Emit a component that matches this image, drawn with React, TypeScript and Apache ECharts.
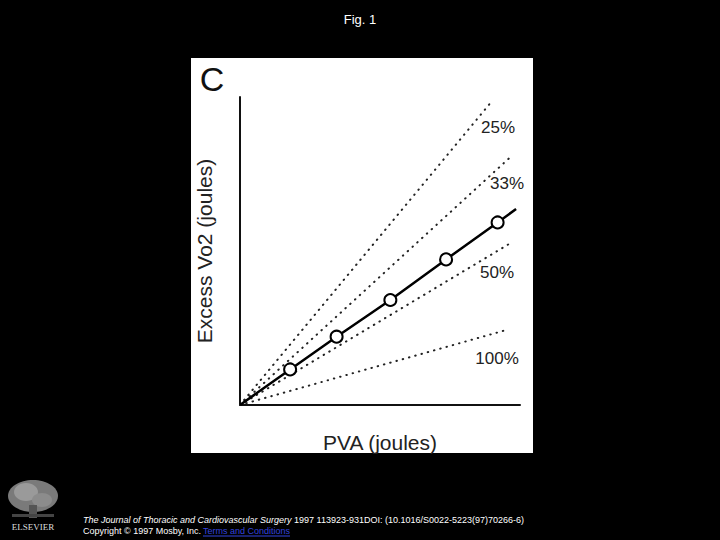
import React, { useEffect, useRef } from "react";
import * as echarts from "echarts";

// Measured series (PVA, Excess VO2) in arbitrary units
const measuredX = [1.79, 3.45, 5.37, 7.36, 9.2];
const measuredY = [1.27, 2.44, 3.75, 5.2, 6.52];
const fitLine = [[0, 0], [1.79, 1.27], [3.45, 2.44], [5.37, 3.75], [7.36, 5.2], [9.2, 6.52], [9.86, 7.0]];

// Efficiency iso-lines (end points from origin)
const effNames = ["25%", "33%", "50%", "100%"];
const effEndX = [8.93, 9.74, 9.74, 9.52];
const effEndY = [10.77, 8.93, 5.83, 2.68];

const footerJournal = "The Journal of Thoracic and Cardiovascular Surgery";
const footerRest = " 1997 113923-931DOI: (10.1016/S0022-5223(97)70266-6)";
const footerLine2 = "Copyright © 1997 Mosby, Inc. ";
const footerLink = "Terms and Conditions";

export default function App() {
  const ref = useRef<HTMLDivElement>(null);
  useEffect(() => {
    document.body.style.margin = "0";
    document.body.style.background = "#000";
    const chart = echarts.init(ref.current!, null, { renderer: "svg" });
    const font = "Liberation Sans, Arial, Helvetica, sans-serif";
    const labelPos = [
      [498, 127],
      [507, 183],
      [497, 272],
      [497, 358],
    ];
    const series: any[] = effNames.map((n, i) => ({
      type: "line",
      name: n,
      data: [[0, 0], [effEndX[i], effEndY[i]]],
      showSymbol: false,
      symbol: "none",
      lineStyle: { color: "#222", width: 2, type: [0.5, 6], cap: "round" },
      z: 2,
    }));
    series.push({
      type: "line",
      name: "fit",
      data: fitLine,
      showSymbol: false,
      symbol: "none",
      lineStyle: { color: "#000", width: 2.5 },
      z: 3,
    });
    series.push({
      type: "scatter",
      name: "measured",
      data: measuredX.map((x, i) => [x, measuredY[i]]),
      symbol: "circle",
      symbolSize: 12,
      itemStyle: { color: "#fff", borderColor: "#000", borderWidth: 2, opacity: 1 },
      z: 4,
    });
    const footerStyle = { fill: "#fff", fontSize: 9, fontFamily: font };
    chart.setOption({
      animation: false,
      backgroundColor: "#000",
      grid: { left: 240, top: 97, width: 280, height: 308 },
      xAxis: {
        type: "value",
        min: 0,
        max: 10,
        axisLine: { show: true, onZero: false, lineStyle: { color: "#111", width: 2 } },
        axisTick: { show: false },
        axisLabel: { show: false },
        splitLine: { show: false },
        name: "PVA (joules)",
        nameLocation: "middle",
        nameGap: 27,
        nameTextStyle: { color: "#222", fontSize: 21, fontFamily: font },
      },
      yAxis: {
        type: "value",
        min: 0,
        max: 11,
        axisLine: { show: true, onZero: false, lineStyle: { color: "#111", width: 2 } },
        axisTick: { show: false },
        axisLabel: { show: false },
        splitLine: { show: false },
        name: "Excess Vo2 (joules)",
        nameLocation: "middle",
        nameGap: 25,
        nameTextStyle: { color: "#222", fontSize: 21, fontFamily: font },
      },
      graphic: [
        { type: "rect", z: -10, shape: { x: 191, y: 58, width: 342, height: 395 }, style: { fill: "#fff" } },
        { type: "text", x: 212, y: 79, style: { text: "C", fontSize: 34, fontFamily: font, fill: "#111", align: "center", verticalAlign: "middle" } },
        ...effNames.map((n, i) => ({
          type: "text",
          x: labelPos[i][0],
          y: labelPos[i][1],
          style: { text: n, fontSize: 17, fontFamily: font, fill: "#222", align: "center", verticalAlign: "middle" },
        })),
        { type: "text", x: 360, y: 19, style: { text: "Fig. 1", fontSize: 13, fontFamily: font, fill: "#fff", align: "center", verticalAlign: "middle" } },
        {
          type: "text",
          x: 83,
          y: 520,
          style: {
            ...footerStyle,
            text: "{i|" + footerJournal + "}" + footerRest,
            verticalAlign: "middle",
            rich: { i: { fontStyle: "italic", fontSize: 9, fontFamily: font, fill: "#fff" } },
          },
        },
        { type: "text", x: 83, y: 531, style: { ...footerStyle, text: footerLine2, verticalAlign: "middle" } },
        { type: "text", x: 203, y: 531, style: { ...footerStyle, fill: "#3344dd", text: footerLink, verticalAlign: "middle" } },
        { type: "line", shape: { x1: 203, y1: 536, x2: 290, y2: 536 }, style: { stroke: "#3344dd", lineWidth: 1 } },
        // Elsevier logo (simplified)
        { type: "ellipse", shape: { cx: 33, cy: 496, rx: 25, ry: 16 }, style: { fill: "#7a7a7a" } },
        { type: "ellipse", shape: { cx: 26, cy: 492, rx: 12, ry: 9 }, style: { fill: "#9a9a9a" } },
        { type: "ellipse", shape: { cx: 42, cy: 500, rx: 10, ry: 7 }, style: { fill: "#8c8c8c" } },
        { type: "rect", shape: { x: 29, y: 505, width: 8, height: 13 }, style: { fill: "#555" } },
        { type: "rect", shape: { x: 12, y: 514, width: 42, height: 3 }, style: { fill: "#444" } },
        { type: "text", x: 33, y: 527, style: { text: "ELSEVIER", fontSize: 9, fontFamily: "Liberation Serif, Times New Roman, serif", fill: "#ddd", align: "center", verticalAlign: "middle" } },
      ],
      series,
    });
    return () => chart.dispose();
  }, []);
  return <div ref={ref} style={{ position: "fixed", left: 0, top: 0, width: 720, height: 540 }} />;
}
